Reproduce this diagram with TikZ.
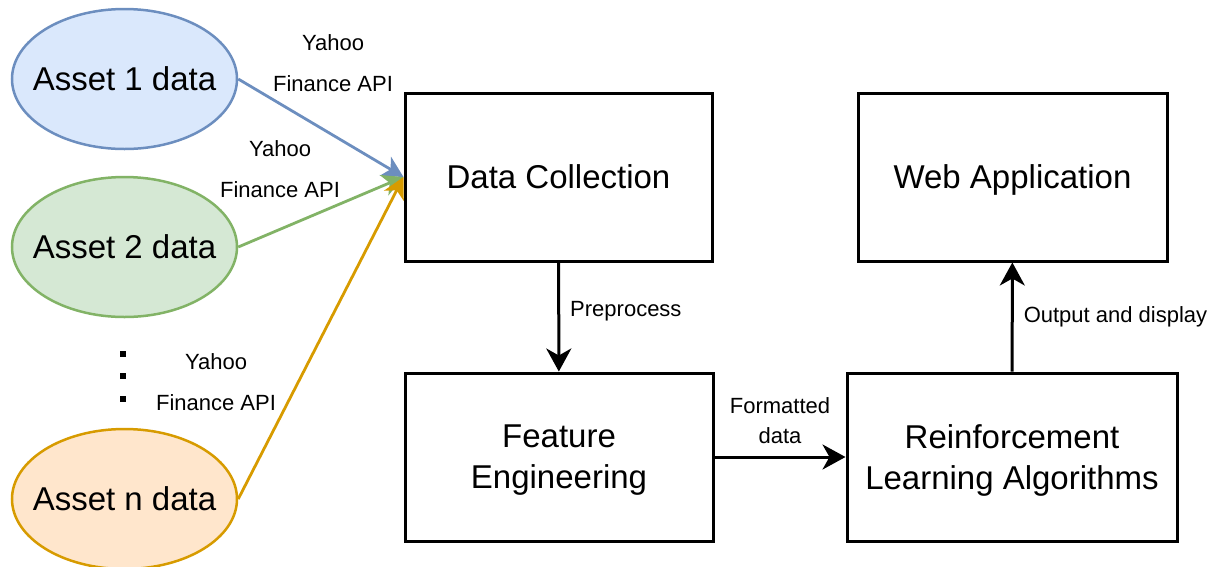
\documentclass[tikz,border=0pt]{standalone}
\usepackage{fontspec}
\setmainfont{Liberation Sans}
\usetikzlibrary{arrows.meta}
\usetikzlibrary{shapes}

\definecolor{blueFill}{HTML}{DAE8FC}
\definecolor{blueEdge}{HTML}{6C8EBF}
\definecolor{greenFill}{HTML}{D5E8D4}
\definecolor{greenEdge}{HTML}{82B366}
\definecolor{orangeFill}{HTML}{FFE6CC}
\definecolor{orangeEdge}{HTML}{D79B00}

\begin{document}
\begin{tikzpicture}[x = 1pt, y = -1pt]
\tikzstyle{assetStyle} = [shape = ellipse, minimum width = 225pt, minimum height = 140pt, inner xsep = -30pt, inner ysep = 0pt, line width = 2.5pt, font = \fontsize{33}{40}\selectfont]
\tikzstyle{blockStyle} = [shape = rectangle, draw, line width = 3pt, minimum height = 168pt, text depth = 0pt, align = center, font = \fontsize{33}{41}\selectfont]
\tikzstyle{labelStyle} = [inner sep = 0pt, align = center, font = \fontsize{22}{30}\selectfont]
\tikzstyle{apiStyle} = [inner sep = 0pt, align = center, font = \fontsize{22}{41}\selectfont]
\tikzstyle{dotStyle} = [shape = rectangle, fill, minimum size = 6pt, inner sep = 0pt]
\tikzstyle{flowStyle} = [line width = 3pt, -{Stealth[length = 23pt, width = 25pt, inset = 7pt]}]
\tikzstyle{feedStyle} = [line width = 2.8pt, -{Stealth[length = 21pt, width = 22pt, inset = 6pt]}]
\useasboundingbox (0, 0) rectangle (1219, 566);
\node[assetStyle, draw = blueEdge, fill = blueFill] (a1) at (124.5, 79) {Asset 1 data};
\node[assetStyle, draw = greenEdge, fill = greenFill] (a2) at (124.5, 247) {Asset 2 data};
\node[assetStyle, draw = orangeEdge, fill = orangeFill] (an) at (124.5, 499) {Asset n data};
\node[dotStyle] (d1) at (123, 354) {};
\node[dotStyle] (d2) at (123, 376) {};
\node[dotStyle] (d3) at (123, 399) {};
\node[blockStyle, minimum width = 307pt] (dc) at (558.5, 177) {Data Collection};
\node[blockStyle, minimum width = 308pt] (fe) at (559, 457) {Feature\\Engineering};
\node[blockStyle, minimum width = 330pt] (rl) at (1012, 457) {Reinforcement\\Learning Algorithms};
\node[blockStyle, minimum width = 309pt] (wa) at (1012.5, 177) {Web Application};
\node[apiStyle] (y1) at (333, 63.5) {Yahoo\\Finance API};
\node[apiStyle] (y2) at (280, 169.5) {Yahoo\\Finance API};
\node[apiStyle] (yn) at (216, 382) {Yahoo\\Finance API};
\draw[feedStyle, blueEdge] (a1.east) -- (dc.west);
\draw[feedStyle, greenEdge] (a2.east) -- (dc.west);
\draw[feedStyle, orangeEdge] (an.east) -- (dc.west);
\draw[flowStyle] (dc) -- (fe) node[labelStyle, pos = 0.446, anchor = west, xshift = 10pt] {Preprocess};
\draw[flowStyle] (fe) -- (rl) node[labelStyle, midway, yshift = 36pt] {Formatted\\data};
\draw[flowStyle] (rl) -- (wa) node[labelStyle, midway, anchor = west, xshift = 10pt] {Output and display};
\end{tikzpicture}
\end{document}
